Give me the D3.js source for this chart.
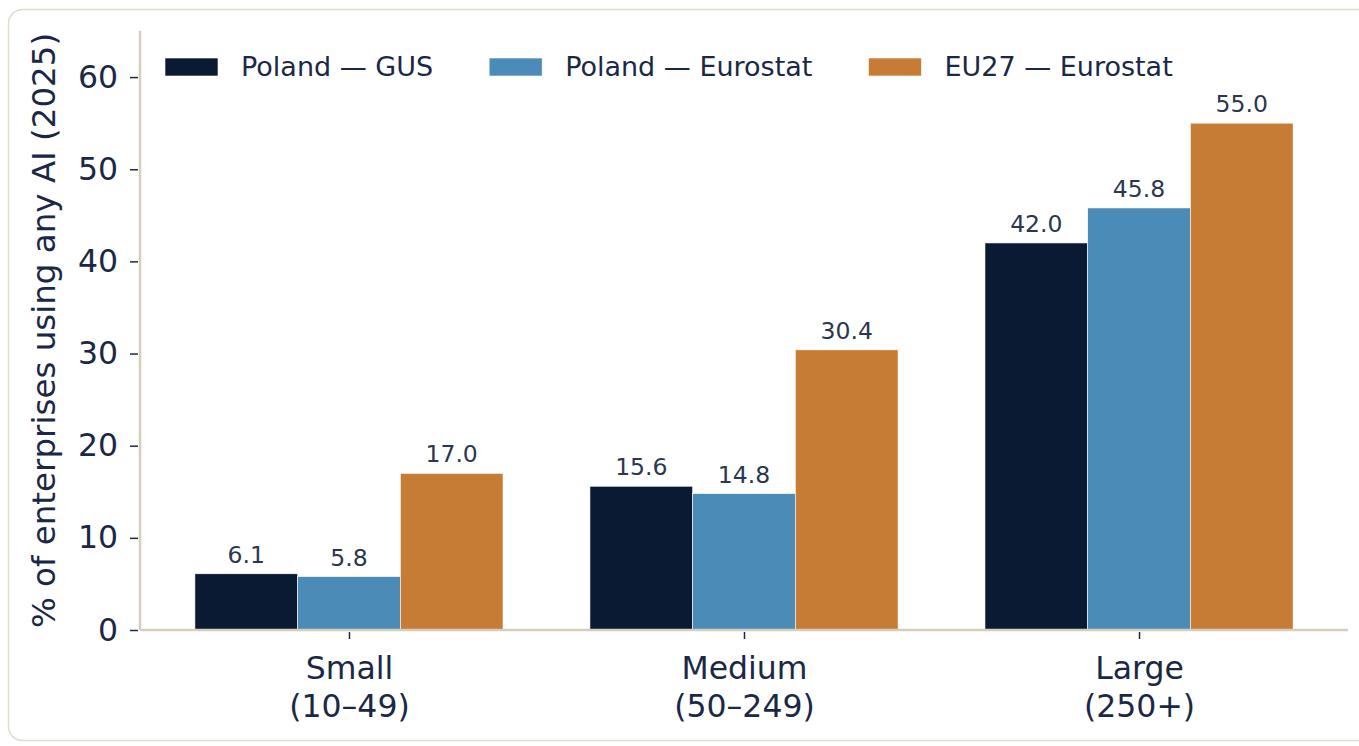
<!DOCTYPE html>
<html>
<head>
<meta charset="utf-8">
<script src="https://cdn.jsdelivr.net/npm/d3@7"></script>
<style>
  html, body { margin: 0; padding: 0; background: #fff; }
  svg { display: block; font-family: "DejaVu Sans", sans-serif; }
</style>
</head>
<body>
<svg id="chart" width="1359" height="746"></svg>
<script>
// chart data
var categories = ["Small\n(10–49)", "Medium\n(50–249)", "Large\n(250+)"];
var seriesNames = ["Poland — GUS", "Poland — Eurostat", "EU27 — Eurostat"];
var polandGus = [6.1, 15.6, 42.0];
var polandEurostat = [5.8, 14.8, 45.8];
var eu27Eurostat = [17.0, 30.4, 55.0];
var yTicks = [0, 10, 20, 30, 40, 50, 60];

var seriesValues = [polandGus, polandEurostat, eu27Eurostat];
var colors = ["#0b1a33", "#4a8bb8", "#c77c36"];
var textColor = "#1b2845";
var axisColor = "#d6cdbd";

var svg = d3.select("#chart");

// card frame
svg.append("rect")
  .attr("x", 8.5).attr("y", 9.5)
  .attr("width", 1400).attr("height", 731)
  .attr("rx", 14)
  .attr("fill", "#fff")
  .attr("stroke", "#e2dccd")
  .attr("stroke-width", 1.5);

var plot = { left: 140, right: 1348, top: 31, bottom: 630 };
var barWidth = 0.26;

var x = d3.scaleLinear().domain([-0.529, 2.529]).range([plot.left, plot.right]);
var y = d3.scaleLinear().domain([0, 65]).range([plot.bottom, plot.top]);

var g = svg.append("g");

// bars
seriesValues.forEach(function(values, s) {
  g.selectAll(".bar-" + s)
    .data(values)
    .enter()
    .append("rect")
    .attr("class", "bar-" + s)
    .attr("x", function(d, i) { return x(i + (s - 1.5) * barWidth); })
    .attr("width", x(barWidth) - x(0))
    .attr("y", function(d) { return y(d); })
    .attr("height", function(d) { return y(0) - y(d); })
    .attr("fill", colors[s])
    .attr("stroke", "#fff")
    .attr("stroke-width", 0.6);

  g.selectAll(".label-" + s)
    .data(values)
    .enter()
    .append("text")
    .attr("class", "label-" + s)
    .attr("x", function(d, i) { return x(i + (s - 1) * barWidth); })
    .attr("y", function(d) { return y(d) - 11; })
    .attr("text-anchor", "middle")
    .attr("font-size", 23.5)
    .attr("fill", "#2b3650")
    .text(function(d) { return d.toFixed(1); });
});

// y axis
var yAxis = g.append("g")
  .attr("transform", "translate(" + plot.left + ",0)")
  .call(d3.axisLeft(y).tickValues(yTicks).tickSize(9).tickPadding(13));
yAxis.select(".domain").attr("stroke", axisColor).attr("stroke-width", 2.5)
  .attr("d", "M0," + y(65) + "V" + y(0));
yAxis.selectAll(".tick line").attr("stroke", textColor).attr("stroke-width", 1.5)
  .attr("x2", -10).attr("x1", -2);
yAxis.selectAll(".tick text")
  .attr("font-size", 31.5).attr("fill", textColor)
  .attr("font-family", "DejaVu Sans");

// x axis
var xAxis = g.append("g")
  .attr("transform", "translate(0," + plot.bottom + ")")
  .call(d3.axisBottom(x).tickValues([0, 1, 2]).tickSize(9).tickFormat(""));
xAxis.select(".domain").attr("stroke", axisColor).attr("stroke-width", 2.5)
  .attr("d", "M" + plot.left + ",0H" + plot.right);
xAxis.selectAll(".tick line").attr("stroke", textColor).attr("stroke-width", 1.5)
  .attr("y1", 2);

xAxis.selectAll(".tick").each(function(d) {
  var lines = categories[d].split("\n");
  var t = d3.select(this).append("text")
    .attr("text-anchor", "middle")
    .attr("font-size", 31.5)
    .attr("fill", textColor)
    .attr("font-family", "DejaVu Sans");
  lines.forEach(function(line, k) {
    t.append("tspan").attr("x", 0).attr("y", 49 + k * 38).text(line);
  });
});

// y label
svg.append("text")
  .attr("transform", "translate(55," + ((plot.top + plot.bottom) / 2) + ") rotate(-90)")
  .attr("text-anchor", "middle")
  .attr("font-size", 32.5)
  .attr("fill", textColor)
  .text("% of enterprises using any AI (2025)");

// legend
var legend = svg.append("g");
var lx = 165;
seriesNames.forEach(function(name, s) {
  legend.append("rect")
    .attr("x", lx).attr("y", 58)
    .attr("width", 53).attr("height", 18)
    .attr("fill", colors[s])
    .attr("stroke", "#fff").attr("stroke-width", 0.6);
  var t = legend.append("text")
    .attr("x", lx + 76).attr("y", 76)
    .attr("font-size", 27)
    .attr("fill", textColor)
    .text(name);
  lx = lx + 76 + t.node().getComputedTextLength() + 56;
});
</script>
</body>
</html>
